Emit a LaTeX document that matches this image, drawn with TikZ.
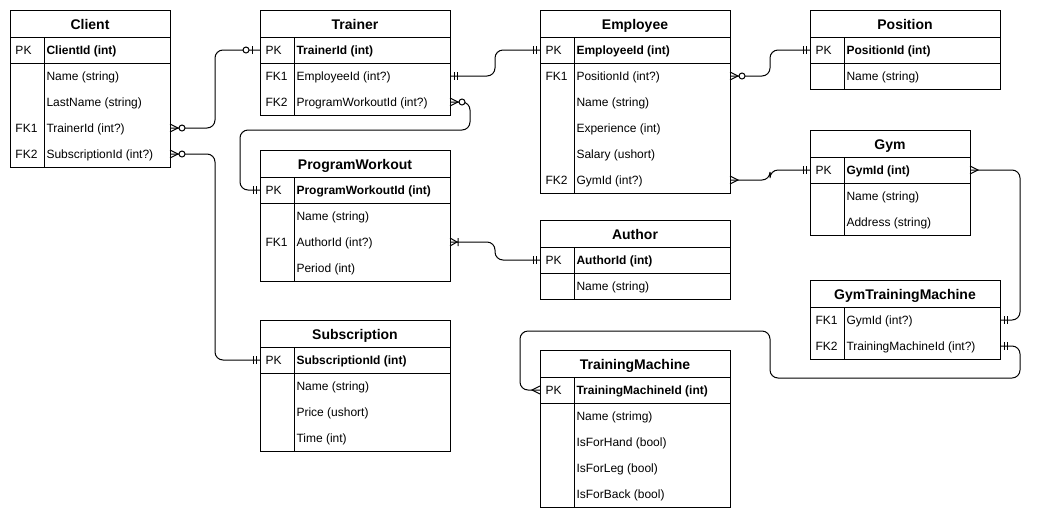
\documentclass[tikz,border=0pt]{standalone}
\usepackage{fontspec}
\setmainfont{Liberation Sans}
\usetikzlibrary{positioning}

\newcommand{\titlefont}{\fontsize{14}{16}\selectfont\bfseries}
\newcommand{\rowfont}{\fontsize{12}{14}\selectfont}

\tikzset{
	etitle/.style = {draw, minimum height=27, inner sep=0, outer sep=0, text height=12, text depth=1, font=\titlefont},
	erow/.style = {minimum height=26, inner sep=0, outer sep=0},
	keytxt/.style = {anchor=west, inner sep=0, text height=9, text depth=3, yshift=-1pt, font=\rowfont},
	fldtxt/.style = {keytxt},
	conn/.style = {rounded corners=8},
	% line ends of the relations, drawn pointing away from the table
	mandone/.pic = {\draw (4,-4) -- (4,4) (7,-4) -- (7,4);},
	many/.pic = {\draw (0,-4) -- (8,0) -- (0,4);},
	onemany/.pic = {\draw (0,-4) -- (7,0) -- (0,4) (8,-4) -- (8,4);},
	manyopt/.pic = {\draw (0,-4) -- (8,0) -- (0,4); \draw[fill=white] (12,0) circle (3);},
	oneopt/.pic = {\draw (8,-4) -- (8,4); \draw[fill=white] (14,0) circle (3);}
}

% name, left, top, width, title, pk field, rows key/field
\newcommand{\entity}[7]{%
	\node[etitle, minimum width=#4, anchor=north west] (#1) at (#2,#3) {#5};
	\xdef\lastrow{#1}%
	\if\relax\detokenize{#6}\relax\else
		\node[erow, minimum width=#4, below=0pt of #1] (#1-pk) {};
		\node[keytxt] at ([xshift=5]#1-pk.west) {PK};
		\node[fldtxt, font=\rowfont\bfseries] at ([xshift=36]#1-pk.west) {#6};
		\draw (#1-pk.south west) -- (#1-pk.south east);
		\xdef\lastrow{#1-pk}%
	\fi
	\foreach \k/\f [count=\i] in {#7} {
		\node[erow, minimum width=#4, below=0pt of \lastrow] (#1-\i) {};
		\node[keytxt] at ([xshift=5]#1-\i.west) {\k};
		\node[fldtxt] at ([xshift=36]#1-\i.west) {\f};
		\xdef\lastrow{#1-\i}
	}
	\draw (#1.north west) rectangle (\lastrow.south east);
	\draw ([xshift=34]#1.south west) -- ([xshift=34]\lastrow.south west);
}

\begin{document}
\begin{tikzpicture}
	[x=1pt, y=-1pt, line width=1pt]
	\useasboundingbox (0,0) rectangle (1040,520);

	\entity{client}{10}{10}{160}{Client}{ClientId (int)}
		{/Name (string), /LastName (string), FK1/TrainerId (int?), FK2/SubscriptionId (int?)}
	\entity{trainer}{260}{10}{190}{Trainer}{TrainerId (int)}
		{FK1/EmployeeId (int?), FK2/ProgramWorkoutId (int?)}
	\entity{employee}{540}{10}{190}{Employee}{EmployeeId (int)}
		{FK1/PositionId (int?), /Name (string), /Experience (int), /Salary (ushort), FK2/GymId (int?)}
	\entity{position}{810}{10}{190}{Position}{PositionId (int)}
		{/Name (string)}
	\entity{gym}{810}{130}{160}{Gym}{GymId (int)}
		{/Name (string), /Address (string)}
	\entity{programworkout}{260}{150}{190}{ProgramWorkout}{ProgramWorkoutId (int)}
		{/Name (string), FK1/AuthorId (int?), /Period (int)}
	\entity{author}{540}{220}{190}{Author}{AuthorId (int)}
		{/Name (string)}
	\entity{subscription}{260}{320}{190}{Subscription}{SubscriptionId (int)}
		{/Name (string), /Price (ushort), /Time (int)}
	\entity{gymtrainingmachine}{810}{280}{190}{GymTrainingMachine}{}
		{FK1/GymId (int?), FK2/TrainingMachineId (int?)}
	\entity{trainingmachine}{540}{350}{190}{TrainingMachine}{TrainingMachineId (int)}
		{/Name (strimg), /IsForHand (bool), /IsForLeg (bool), /IsForBack (bool)}

	% relations
	\draw[conn] (client-3.east) -- ++(45,0) |- (trainer-pk.west);
	\draw[conn] (client-4.east) -- ++(45,0) |- (subscription-pk.west);
	\draw[conn] (trainer-1.east) -- ++(45,0) |- (employee-pk.west);
	\draw[conn] (trainer-2.east) -- ++(20,0) -- ++(0,28) -| ([xshift=-20]programworkout-pk.west) -- (programworkout-pk.west);
	\draw[conn] (employee-1.east) -- ++(40,0) |- (position-pk.west);
	\draw[conn] (employee-5.east) -- ++(40,0) |- (gym-pk.west);
	\draw[conn] (programworkout-2.east) -- ++(45,0) |- (author-pk.west);
	\draw[conn] (gym-pk.east) -- ++(50,0) |- (gymtrainingmachine-1.east);
	\draw[conn] (gymtrainingmachine-2.east) -- ++(20,0) -- ++(0,32) -- ++(-250,0) -- ++(0,-47) -| ([xshift=-20]trainingmachine-pk.west) -- (trainingmachine-pk.west);

	\pic at (client-3.east) {manyopt};
	\pic[rotate=180] at (trainer-pk.west) {oneopt};
	\pic at (client-4.east) {manyopt};
	\pic[rotate=180] at (subscription-pk.west) {mandone};
	\pic at (trainer-1.east) {mandone};
	\pic[rotate=180] at (employee-pk.west) {mandone};
	\pic at (trainer-2.east) {manyopt};
	\pic[rotate=180] at (programworkout-pk.west) {mandone};
	\pic at (employee-1.east) {manyopt};
	\pic[rotate=180] at (position-pk.west) {mandone};
	\pic at (employee-5.east) {many};
	\pic[rotate=180] at (gym-pk.west) {mandone};
	\pic at (programworkout-2.east) {onemany};
	\pic[rotate=180] at (author-pk.west) {mandone};
	\pic at (gym-pk.east) {many};
	\pic at (gymtrainingmachine-1.east) {mandone};
	\pic at (gymtrainingmachine-2.east) {mandone};
	\pic[rotate=180] at (trainingmachine-pk.west) {many};
\end{tikzpicture}
\end{document}
